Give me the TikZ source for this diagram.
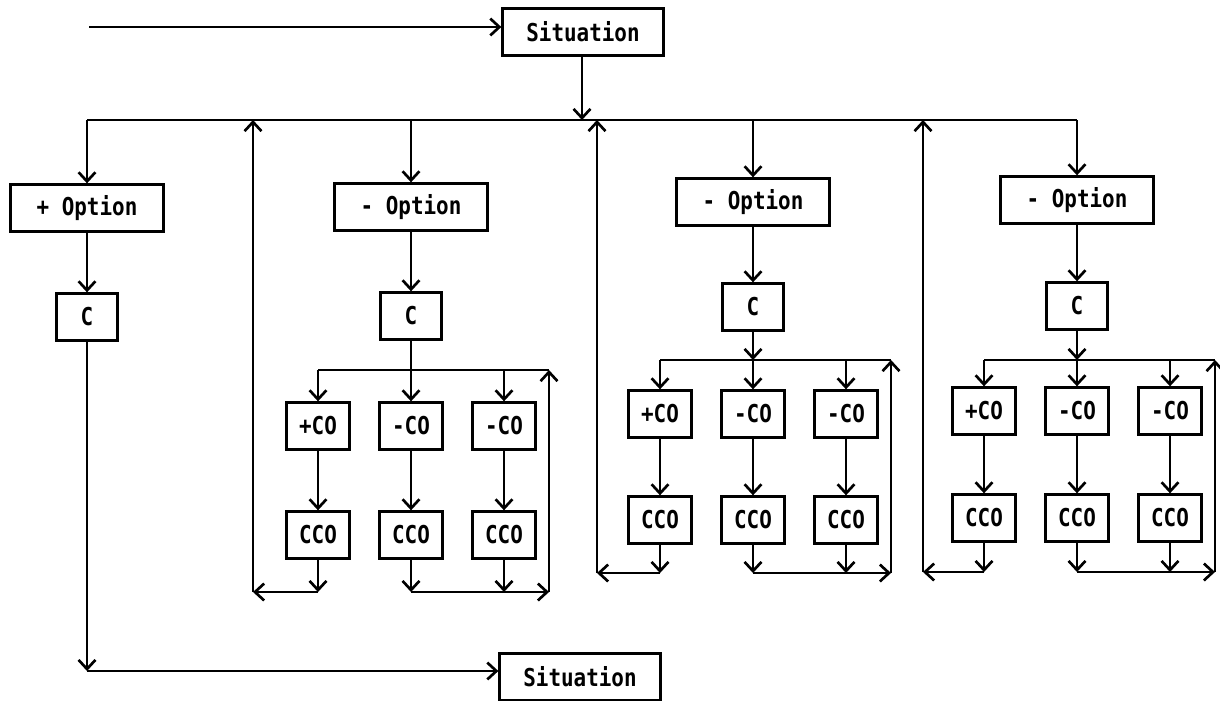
\documentclass[tikz,border=0pt]{standalone}
\usepackage{fontspec}
\newfontfamily\dotfont[FakeStretch=0.85]{DejaVu Sans Mono}
\usetikzlibrary{arrows.meta}

\begin{document}
\begin{tikzpicture}[
    x=0.025cm, y=-0.025cm,
    box/.style={draw, line width=2.1pt, font=\dotfont\bfseries\fontsize{17.5}{20}\selectfont, inner sep=2pt, minimum height=33pt},
    sitbox/.style={box, minimum width=114pt},
    optbox/.style={box, minimum width=109pt},
    cbox/.style={box, minimum width=44pt},
    cobox/.style={box, minimum width=45pt},
    arr/.style={-{Straight Barb[length=6.5pt,width=12pt]}, line width=1.9pt},
    ln/.style={line width=1.9pt},
  ]
    \useasboundingbox (0,0) rectangle (1220,700);

    % === Situation (top) ===
    \node[sitbox] (sit1) at (583,32) {Situation};
    \coordinate (start) at (89,27);
    \draw[arr] (start) -- (start -| sit1.west);

    % bus below the situation
    \coordinate (bus) at (582,120);
    \draw[arr] (sit1.south -| bus) -- (bus);

    % === + Option ===
    \node[optbox] (opt1) at (87,208) {+ Option};
    \node[cbox] (c1) at (87,317) {C};
    \draw[arr] (opt1.north |- bus) -- (opt1.north);
    \draw[arr] (opt1.south) -- (c1.north);

    % === - Option (three groups) ===
    \foreach \g/\dx/\oy/\cy/\sy/\py/\qy/\by/\rx/\js in {
        2/411/207/316/370/426/535/592/253/-,
        3/753/202/307/360/414/520/573/597/arr,
        4/1077/200/306/360/411/518/572/923/arr} {
      \node[optbox] (opt\g) at (\dx,\oy) {- Option};
      \node[cbox] (c\g) at (\dx,\cy) {C};
      \coordinate (sub\g) at (\dx,\sy);
      \coordinate (rgt\g) at (\dx+138,\sy);
      \coordinate (bot\g) at (\dx,\by);
      \coordinate (ret\g) at (\rx,\by);

      \foreach \k/\off/\txt in {a/-93/+CO, b/0/-CO, c/93/-CO} {
        \node[cobox] (co\g\k) at (\dx+\off,\py) {\txt};
        \node[cobox] (cco\g\k) at (\dx+\off,\qy) {CCO};
        \draw[arr] (co\g\k.north |- sub\g) -- (co\g\k.north);
        \draw[arr] (co\g\k.south) -- (co\g\k.south |- cco\g\k.north);
        \draw[arr] (cco\g\k.south) -- (cco\g\k.south |- bot\g);
      }

      \draw[arr] (opt\g.north |- bus) -- (opt\g.north);
      \draw[arr] (opt\g.south) -- (c\g.north);
      \draw[ln, \js] (c\g.south) -- (sub\g);
      \draw[ln] (co\g a.north |- sub\g) -- (rgt\g);

      % way back to the bus
      \draw[arr] (cco\g a.south |- bot\g) -- (ret\g);
      \draw[arr] (ret\g) -- (ret\g |- bus);
      \draw[arr] (cco\g b.south |- bot\g) -- (rgt\g |- bot\g);
      \draw[arr] (rgt\g |- bot\g) -- (rgt\g);
    }

    % bus line
    \draw[ln] (opt1.north |- bus) -- (opt4.north |- bus);

    % === Situation (bottom) ===
    \node[sitbox] (sit2) at (580,677) {Situation};
    \coordinate (low) at (87,671);
    \draw[arr] (c1.south) -- (low);
    \draw[arr] (low) -- (low -| sit2.west);
  \end{tikzpicture}
\end{document}
